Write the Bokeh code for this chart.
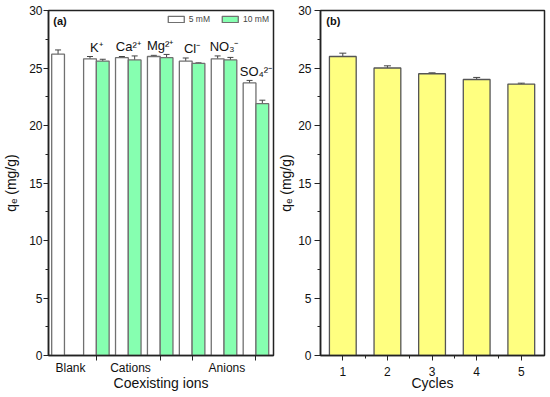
from bokeh.plotting import figure
from bokeh.layouts import row
from bokeh.models import (ColumnDataSource, Range1d, FixedTicker, Whisker, TeeHead,
                          Legend, LegendItem)
from bokeh.core.properties import value
from bokeh.embed import file_html
from bokeh.resources import INLINE

# ---------------- data ----------------
ion_labels = ["K\u207a", "Ca\u00b2\u207a", "Mg\u00b2\u207a", "Cl\u207b", "NO\u2083\u207b", "SO\u2084\u00b2\u207b"]
q_5mM = [26.2, 25.8, 25.9, 26.0, 25.6, 25.8, 23.7]      # Blank, K, Ca, Mg, Cl, NO3, SO4
err_5mM = [0.37, 0.2, 0.1, 0.1, 0.27, 0.25, 0.22]
q_10mM = [25.6, 25.7, 25.9, 25.4, 25.7, 21.9]           # K, Ca, Mg, Cl, NO3, SO4
err_10mM = [0.16, 0.35, 0.28, 0.05, 0.22, 0.3]
group_labels = ["Blank", "Cations", "Anions"]
group_label_pos = [0.19, 2.07, 5.09]
group_tick_pos = [1, 3, 4, 6]

cycles = [1, 2, 3, 4, 5]
q_cycles = [26.0, 25.0, 24.5, 24.0, 23.6]
err_cycles = [0.29, 0.19, 0.08, 0.18, 0.08]

FONT = "Liberation Sans"
GREEN = "#86FFB0"
YELLOW = "#FFFF80"
INK = "#111111"


def style_axes(p):
    for ax in (p.xaxis[0], p.yaxis[0]):
        ax.axis_line_color = "#222222"
        ax.axis_line_width = 1.5
        ax.major_tick_line_color = "#222222"
        ax.minor_tick_line_color = "#222222"
        ax.major_tick_in = 0
        ax.major_tick_out = 5
        ax.minor_tick_in = 0
        ax.minor_tick_out = 3
        ax.major_label_text_font = FONT
        ax.major_label_text_font_size = "12px"
        ax.major_label_text_color = INK
        ax.axis_label_text_font = FONT
        ax.axis_label_text_font_size = "14px"
        ax.axis_label_text_font_style = "normal"
        ax.axis_label_text_color = INK
    p.xgrid.visible = False
    p.ygrid.visible = False
    p.outline_line_color = "#222222"
    p.outline_line_width = 1.5
    p.yaxis.ticker = FixedTicker(ticks=[0, 5, 10, 15, 20, 25, 30],
                                 minor_ticks=[2.5, 7.5, 12.5, 17.5, 22.5, 27.5])
    p.yaxis.axis_label = "q\u2091 (mg/g)"


# ---------------- panel (a) ----------------
pa = figure(width=275, height=397, output_backend="svg", toolbar_location=None,
            x_range=Range1d(-0.5, 6.55), y_range=Range1d(0, 30),
            min_border_left=45, min_border_right=2, min_border_top=10, min_border_bottom=42)
style_axes(pa)
pa.yaxis.major_label_standoff = 1
pa.yaxis.axis_label_standoff = 7

x5 = [i - 0.2 for i in range(len(q_5mM))]
x10 = [i + 0.2 for i in range(1, len(q_10mM) + 1)]
s5 = ColumnDataSource(dict(x=x5, top=q_5mM,
                           upper=[a + b for a, b in zip(q_5mM, err_5mM)],
                           lower=[a - b for a, b in zip(q_5mM, err_5mM)]))
s10 = ColumnDataSource(dict(x=x10, top=q_10mM,
                            upper=[a + b for a, b in zip(q_10mM, err_10mM)],
                            lower=[a - b for a, b in zip(q_10mM, err_10mM)]))
r5 = pa.vbar(x="x", top="top", width=0.4, bottom=0, source=s5,
             fill_color="white", line_color="#707070", line_width=1.3)
r10 = pa.vbar(x="x", top="top", width=0.4, bottom=0, source=s10,
              fill_color=GREEN, line_color="#707070", line_width=1.3)
for s in (s5, s10):
    pa.add_layout(Whisker(source=s, base="x", upper="upper", lower="lower",
                          line_color="#444444", line_width=1,
                          upper_head=TeeHead(size=6, line_color="#444444", line_width=1),
                          lower_head=TeeHead(size=6, line_color="#444444", line_width=1)))

label_x = list(range(1, len(ion_labels) + 1))
label_y = [max(q_5mM[i] + err_5mM[i], q_10mM[i - 1] + err_10mM[i - 1]) + 0.8 for i in label_x]
pa.text(x=label_x, y=label_y, text=ion_labels, text_font=value(FONT),
        text_font_size="13px", text_align="center", text_baseline="middle", text_color=INK)
pa.text(x=[-0.35], y=[29.1], text=["(a)"], text_font=value(FONT), text_font_size="11px",
        text_font_style="bold", text_align="left", text_baseline="middle", text_color=INK)

pa.xaxis.ticker = FixedTicker(ticks=group_label_pos, minor_ticks=group_tick_pos)
pa.xaxis.major_label_overrides = {p: l for p, l in zip(group_label_pos, group_labels)}
pa.xaxis.major_tick_line_color = None
pa.xaxis.major_tick_out = 0
pa.xaxis.major_label_standoff = 0
pa.xaxis.minor_tick_out = 5
pa.xaxis.axis_label = "Coexisting ions"
pa.xaxis.axis_label_standoff = -3

leg = Legend(items=[LegendItem(label="5 mM", renderers=[r5]),
                    LegendItem(label="10 mM", renderers=[r10])],
             orientation="horizontal", location="top_right")
leg.glyph_width = 20
leg.glyph_height = 8
leg.label_height = 8
leg.label_text_font = FONT
leg.label_text_font_size = "8.5px"
leg.label_standoff = 3
leg.spacing = 10
leg.padding = 0
leg.margin = 4
leg.border_line_color = None
leg.background_fill_alpha = 0
pa.add_layout(leg)

# ---------------- panel (b) ----------------
pb = figure(width=275, height=397, output_backend="svg", toolbar_location=None,
            x_range=Range1d(0.5, 5.52), y_range=Range1d(0, 30),
            min_border_left=42, min_border_right=6, min_border_top=10, min_border_bottom=42)
style_axes(pb)
pb.yaxis.major_label_standoff = 3
pb.yaxis.major_tick_out = 6
pb.yaxis.axis_label_standoff = 1
sb = ColumnDataSource(dict(x=cycles, top=q_cycles,
                           upper=[a + b for a, b in zip(q_cycles, err_cycles)],
                           lower=[a - b for a, b in zip(q_cycles, err_cycles)]))
pb.vbar(x="x", top="top", width=0.6, bottom=0, source=sb,
        fill_color=YELLOW, line_color="#555555", line_width=1.3)
pb.add_layout(Whisker(source=sb, base="x", upper="upper", lower="lower",
                      line_color="#444444", line_width=1,
                      upper_head=TeeHead(size=7, line_color="#444444", line_width=1),
                      lower_head=TeeHead(size=7, line_color="#444444", line_width=1)))
pb.text(x=[0.63], y=[29.1], text=["(b)"], text_font=value(FONT), text_font_size="11px",
        text_font_style="bold", text_align="left", text_baseline="middle", text_color=INK)
pb.xaxis.ticker = FixedTicker(ticks=cycles, minor_ticks=[1.5, 2.5, 3.5, 4.5])
pb.xaxis.major_label_standoff = 6
pb.xaxis.axis_label = "Cycles"
pb.xaxis.axis_label_standoff = -4

layout = row(pa, pb)
open("out.html", "w").write(file_html(layout, INLINE))
